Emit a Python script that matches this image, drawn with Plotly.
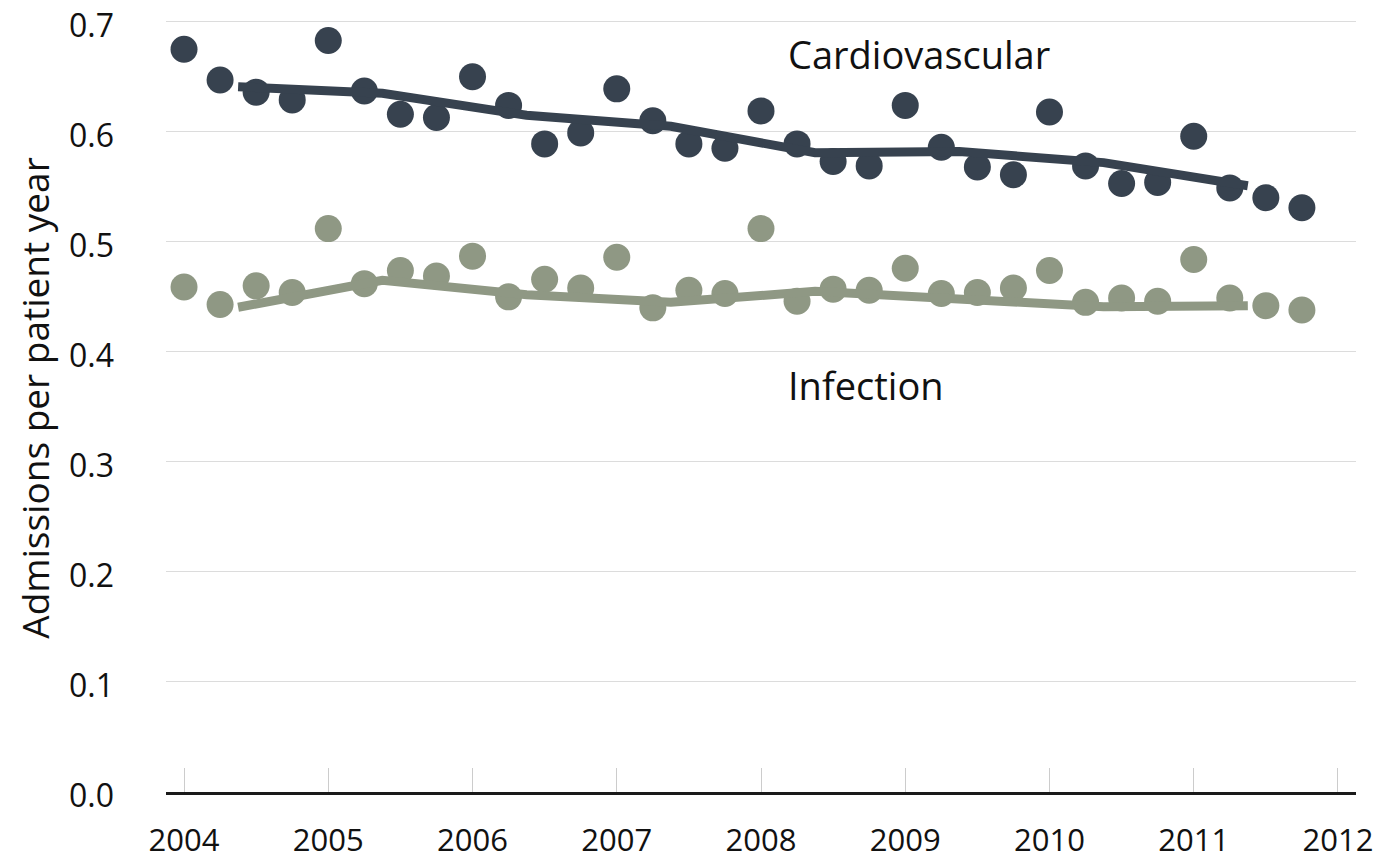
import plotly.graph_objects as go

quarters = [2004 + 0.25 * i for i in range(32)]
cardio = [0.675, 0.647, 0.636, 0.629, 0.683, 0.637, 0.616, 0.613,
          0.650, 0.624, 0.589, 0.599, 0.639, 0.610, 0.589, 0.585,
          0.619, 0.589, 0.573, 0.569, 0.624, 0.586, 0.568, 0.561,
          0.618, 0.569, 0.553, 0.554, 0.596, 0.549, 0.540, 0.531]
infection = [0.459, 0.443, 0.460, 0.454, 0.512, 0.462, 0.474, 0.469,
             0.487, 0.450, 0.466, 0.458, 0.486, 0.440, 0.456, 0.453,
             0.512, 0.446, 0.457, 0.456, 0.476, 0.453, 0.454, 0.458,
             0.474, 0.445, 0.449, 0.446, 0.484, 0.449, 0.442, 0.438]
trend_x = [2004.375, 2005.375, 2006.375, 2007.375, 2008.375, 2009.375, 2010.375, 2011.375]
cardio_trend = [0.641, 0.635, 0.615, 0.605, 0.581, 0.582, 0.572, 0.551]
infection_trend = [0.4405, 0.465, 0.452, 0.445, 0.455, 0.449, 0.441, 0.442]
year_ticks = list(range(2004, 2013))
y_ticks = [0.0, 0.1, 0.2, 0.3, 0.4, 0.5, 0.6, 0.7]

c_dark = "#37424f"
c_green = "#8f9884"
font = "Open Sans"

ML, MR, MT, MB = 166, 27, 19, 73
W, H = 1383, 865
plot_w = W - ML - MR

fig = go.Figure()
for ys, trend, col in [(cardio, cardio_trend, c_dark), (infection, infection_trend, c_green)]:
    fig.add_trace(go.Scatter(x=quarters, y=ys, mode="markers",
                             marker=dict(size=27, color=col), showlegend=False))
    fig.add_trace(go.Scatter(x=trend_x, y=trend, mode="lines",
                             line=dict(width=9, color=col), showlegend=False))

fig.add_annotation(x=2008.17, y=0.671, text="Cardiovascular", showarrow=False,
                   xanchor="left", yanchor="middle", font=dict(size=38, color="#111", family=font))
fig.add_annotation(x=2008.17, y=0.37, text="Infection", showarrow=False,
                   xanchor="left", yanchor="middle", font=dict(size=38, color="#111", family=font))
fig.add_annotation(xref="paper", yref="paper", x=(35 - ML) / plot_w, y=0.51,
                   text="Admissions per patient year", textangle=-90, showarrow=False,
                   xanchor="center", yanchor="middle", font=dict(size=37, color="#111", family=font))

fig.update_layout(
    width=W, height=H,
    margin=dict(l=ML, r=MR, t=MT, b=MB, autoexpand=False),
    plot_bgcolor="white", paper_bgcolor="white",
    font=dict(family=font, size=26, color="#111"),
    xaxis=dict(range=[2003.875, 2012.125], tickvals=year_ticks,
               ticktext=[str(y) for y in year_ticks],
               showgrid=False, zeroline=False, automargin=False,
               showline=True, linecolor="#1a1a1a", linewidth=3,
               ticks="inside", ticklen=24, tickcolor="#cccccc", tickwidth=1,
               ticklabelstandoff=19, ticklabeloverflow="allow", tickfont=dict(size=31)),
    yaxis=dict(range=[0, 0.7025], tickvals=y_ticks,
               ticktext=["0.0", "0.1", "0.2", "0.3", "0.4", "0.5", "0.6", "0.7"],
               showgrid=True, gridcolor="#dcdcdc", gridwidth=1,
               zeroline=False, showline=False, ticks="", automargin=False,
               ticklabelstandoff=51, ticklabelshift=4, ticklabeloverflow="allow",
               tickfont=dict(size=32)),
)

fig.write_html("out.html", config={"displayModeBar": False},
               post_script="document.body.style.margin='0';")
